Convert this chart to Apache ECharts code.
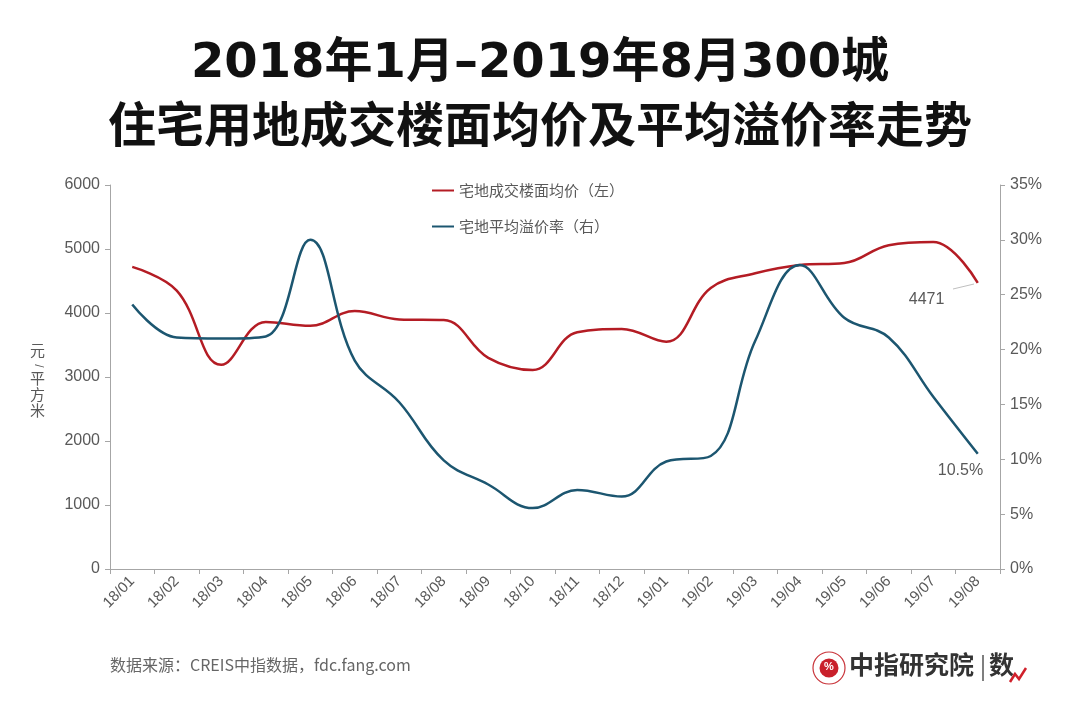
<!DOCTYPE html>
<html>
<head>
<meta charset="utf-8">
<script src="https://cdn.jsdelivr.net/npm/echarts@6/dist/echarts.min.js"></script>
<style>html,body{margin:0;padding:0;background:#fff;}#c{width:1080px;height:702px;}</style>
</head>
<body>
<div id="c"></div>
<script>
const categories = ['18/01','18/02','18/03','18/04','18/05','18/06','18/07','18/08','18/09','18/10','18/11','18/12','19/01','19/02','19/03','19/04','19/05','19/06','19/07','19/08'];
const priceValues = [4720,4350,3190,3860,3800,4030,3900,3890,3300,3110,3700,3750,3550,4390,4620,4750,4780,5060,5110,4471];
const premiumValues = [24.1,21.1,21.0,21.2,30.0,19.0,15.2,9.9,7.7,5.55,7.2,6.6,9.8,10.3,20.8,27.7,22.9,21.1,15.7,10.5];
const leftTicks = [0,1000,2000,3000,4000,5000,6000];
const rightTicks = [0,5,10,15,20,25,30,35];
const seriesNames = ['宅地成交楼面均价（左）','宅地平均溢价率（右）'];

const RED = '#B41C24', BLUE = '#1C5670', GRAY = '#595959', AXIS = '#A6A6A6';
const LAT = 'Liberation Sans, Arial, sans-serif';
const CJK = '"Noto Sans CJK SC", sans-serif';

const chart = echarts.init(document.getElementById('c'));
chart.setOption({
  backgroundColor: '#fff',
  animation: false,
  title: [
    {text: '2018年1月–2019年8月300城', left: 'center', top: 36,
     textStyle: {fontFamily: '"DejaVu Sans", "Noto Sans CJK SC", sans-serif', fontWeight: 'bold', fontSize: 48, color: '#111'}},
    {text: '住宅用地成交楼面均价及平均溢价率走势', left: 'center', top: 95,
     textStyle: {fontFamily: CJK, fontWeight: 'bold', fontSize: 48, color: '#111'}}
  ],
  legend: {
    orient: 'vertical', left: 427, top: 178, itemGap: 21,
    itemWidth: 22, itemHeight: 2, icon: 'rect',
    textStyle: {fontFamily: CJK, fontSize: 15, color: GRAY},
    data: seriesNames
  },
  grid: {left: 110, right: 80, top: 185, bottom: 133},
  xAxis: {
    type: 'category', data: categories, boundaryGap: true,
    axisLine: {lineStyle: {color: AXIS}},
    axisTick: {show: true, lineStyle: {color: AXIS}, length: 5},
    axisLabel: {rotate: 45, color: GRAY, fontFamily: LAT, fontSize: 15, margin: 10, interval: 0}
  },
  yAxis: [
    {type: 'value', min: leftTicks[0], max: leftTicks[leftTicks.length-1], interval: 1000,
     position: 'left',
     axisLine: {show: true, lineStyle: {color: AXIS}},
     axisTick: {show: true, lineStyle: {color: AXIS}, length: 5},
     splitLine: {show: false},
     axisLabel: {color: GRAY, fontFamily: LAT, fontSize: 16, margin: 10, formatter: v => String(v)}},
    {type: 'value', min: rightTicks[0], max: rightTicks[rightTicks.length-1], interval: 5,
     position: 'right',
     axisLine: {show: true, lineStyle: {color: AXIS}},
     axisTick: {show: true, lineStyle: {color: AXIS}, length: 5},
     splitLine: {show: false},
     axisLabel: {color: GRAY, fontFamily: LAT, fontSize: 16, margin: 10, formatter: '{value}%'}}
  ],
  series: [
    {name: seriesNames[0], type: 'line', yAxisIndex: 0, smooth: 0.4, symbol: 'none',
     lineStyle: {color: RED, width: 2.5}, itemStyle: {color: RED},
     endLabel: {show: true, distance: 0, align: 'left', offset: [-69, 17], color: GRAY,
                fontFamily: LAT, fontSize: 16, formatter: p => String(p.value)},
     data: priceValues},
    {name: seriesNames[1], type: 'line', yAxisIndex: 1, smooth: 0.4, symbol: 'none',
     lineStyle: {color: BLUE, width: 2.5}, itemStyle: {color: BLUE},
     endLabel: {show: true, distance: 0, align: 'left', offset: [-40, 17], color: GRAY,
                fontFamily: LAT, fontSize: 16, formatter: p => p.value + '%'},
     data: premiumValues}
  ],
  graphic: [
    {type: 'line', shape: {x1: 953, y1: 289, x2: 974, y2: 284}, style: {stroke: '#BFBFBF', lineWidth: 1}},
    {type: 'text', left: 30, top: 343, style: {text: '元', fill: GRAY, fontFamily: CJK, fontSize: 15}},
    {type: 'text', x: 38, y: 366, rotation: -Math.PI / 2,
     style: {text: '/', fill: GRAY, fontFamily: LAT, fontSize: 12, align: 'center', verticalAlign: 'middle'}},
    {type: 'text', left: 30, top: 370,
     style: {text: '平\n方\n米', fill: GRAY, fontFamily: CJK, fontSize: 15, lineHeight: 16}},
    {type: 'text', left: 110, top: 657,
     style: {text: '数据来源：CREIS中指数据，fdc.fang.com', fill: '#666', fontFamily: CJK, fontSize: 16}},
    {type: 'circle', shape: {cx: 829, cy: 668, r: 16}, style: {fill: '#fff', stroke: '#C9343A', lineWidth: 1.2}},
    {type: 'circle', shape: {cx: 829, cy: 668, r: 9.5}, style: {fill: '#C9202B'}},
    {type: 'text', left: 824, top: 661, style: {text: '%', fill: '#fff', fontFamily: LAT, fontSize: 11, fontWeight: 'bold'}},
    {type: 'text', left: 849, top: 652,
     style: {text: '中指研究院', fill: '#333', fontFamily: CJK, fontSize: 25, fontWeight: 'bold'}},
    {type: 'line', shape: {x1: 983, y1: 655, x2: 983, y2: 681}, style: {stroke: '#555', lineWidth: 1.5}},
    {type: 'text', left: 989, top: 652,
     style: {text: '数', fill: '#333', fontFamily: CJK, fontSize: 25, fontWeight: 'bold'}},
    {type: 'polyline', shape: {points: [[1010,682],[1015,674],[1019,679],[1026,668]]}, style: {stroke: '#D0202B', lineWidth: 2.5, fill: null}}
  ]
});
</script>
</body>
</html>
